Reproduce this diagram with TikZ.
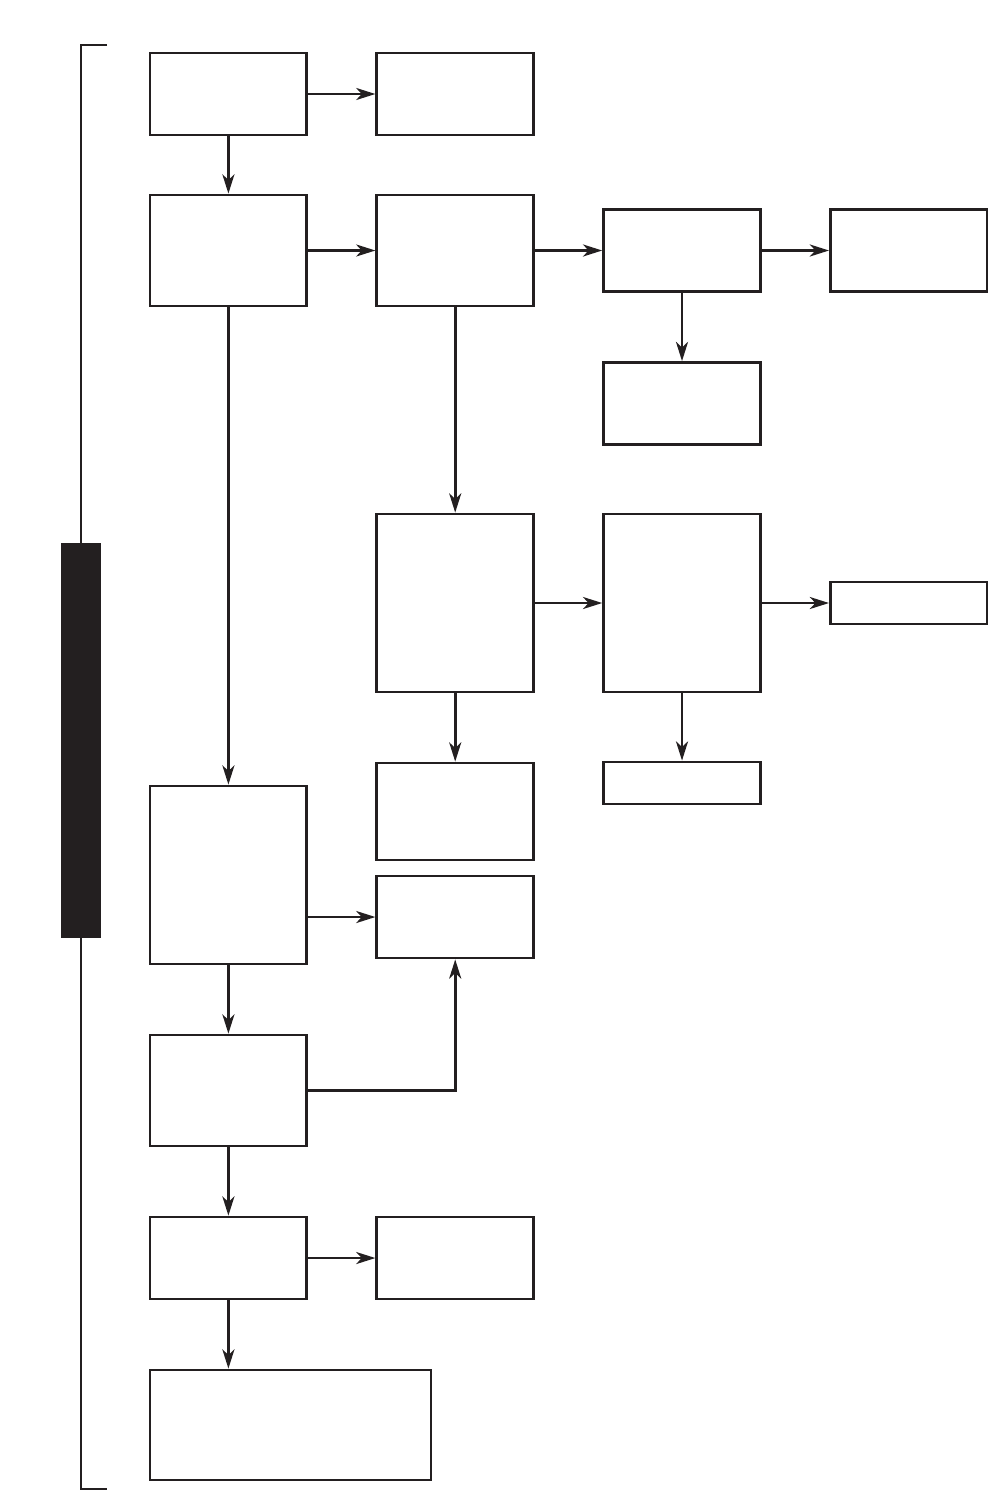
\documentclass[tikz,border=0pt]{standalone}
\usepackage{tikz}
\usetikzlibrary{arrows.meta, positioning}
\definecolor{inkdark}{HTML}{231F20}

\begin{document}
\begin{tikzpicture}[
    x=0.25mm, y=-0.25mm,
    block/.style={rectangle, draw=inkdark, line width=0.72mm, minimum width=39.2mm, minimum height=20.5mm, inner sep=0pt, outer sep=0pt},
    tallblock/.style={block, minimum height=27.75mm},
    hugeblock/.style={block, minimum height=44.5mm},
    slimblock/.style={block, minimum height=10.5mm},
    line/.style={draw=inkdark, line width=0.7mm, -{Stealth[length=4.8mm, width=3mm, inset=1.4mm]}, shorten >=0.35mm},
    brace/.style={draw=inkdark, line width=0.5mm}
]
    \useasboundingbox (0,0) rectangle (988,1492);

    % left bracket and bar
    \draw[brace] (107,45) -- (81,45) -- (81,1489) -- (107,1489);
    \node[fill=inkdark, inner sep=0pt, outer sep=0pt, minimum width=10mm, minimum height=98.75mm, anchor=north west] (bar) at (61,543) {};

    % first column
    \node[block, anchor=north west] (a1) at (150,53) {};
    \node[tallblock, below=15mm of a1] (a2) {};
    \node[hugeblock, below=120mm of a2] (a6) {};
    \node[tallblock, below=17.75mm of a6] (a7) {};
    \node[block, below=17.75mm of a7] (a8) {};
    \node[block, minimum width=70.25mm, minimum height=27.5mm, below=17.75mm of a8.south west, anchor=north west] (a9) {};

    % second column
    \node[block, right=17.5mm of a1] (b1) {};
    \node[tallblock, right=17.5mm of a2] (b2) {};
    \node[hugeblock, below=52mm of b2] (b4) {};
    \node[block, minimum height=24.25mm, below=17.75mm of b4] (b5) {};
    \node[block, below=4mm of b5] (b6) {};
    \node[block, right=17.5mm of a8] (b8) {};

    % third and fourth columns
    \node[block, right=17.5mm of b2] (c2) {};
    \node[block, right=17.5mm of c2] (d2) {};
    \node[block, below=17.75mm of c2] (c3) {};
    \node[hugeblock, right=17.5mm of b4] (c4) {};
    \node[slimblock, right=17.5mm of c4] (d4) {};
    \node[slimblock, below=17.5mm of c4] (c5) {};

    % Connections
    \draw[line] (a1) -- (b1);
    \draw[line] (a1) -- (a2);
    \draw[line] (a2) -- (b2);
    \draw[line] (b2) -- (c2);
    \draw[line] (c2) -- (d2);
    \draw[line] (c2) -- (c3);
    \draw[line] (a2) -- (a6);
    \draw[line] (b2) -- (b4);
    \draw[line] (b4) -- (c4);
    \draw[line] (c4) -- (d4);
    \draw[line] (b4) -- (b5);
    \draw[line] (c4) -- (c5);
    \draw[line] (a6.east |- b6.west) -- (b6.west);
    \draw[line] (a6) -- (a7);
    \draw[line] (a7.east) -| (b6.south);
    \draw[line] (a7) -- (a8);
    \draw[line] (a8) -- (b8);
    \draw[line] (a8.south) -- (a8.south |- a9.north);
\end{tikzpicture}
\end{document}
